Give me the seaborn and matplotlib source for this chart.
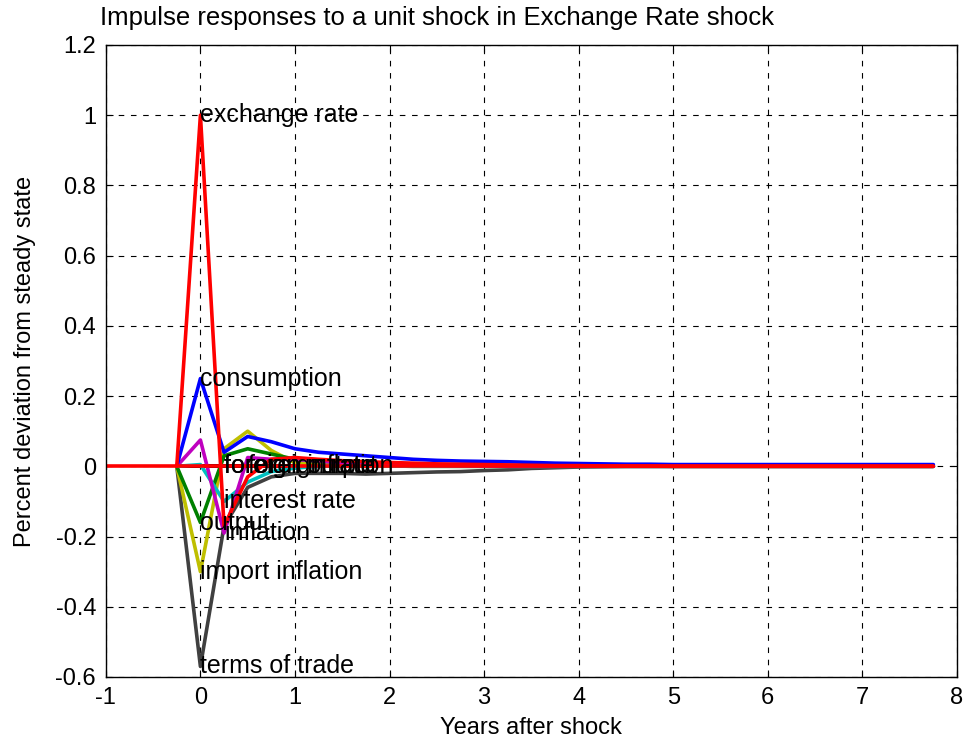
import matplotlib
matplotlib.use("Agg")
import matplotlib.pyplot as plt
import numpy as np
import pandas as pd
import seaborn as sns

# quarterly horizon, in years after the shock
years = [-0.25, 0.0, 0.25, 0.5, 0.75, 1.0, 1.25, 1.5, 1.75, 2.0, 2.25, 2.5, 2.75,
         3.0, 3.25, 3.5, 3.75, 4.0, 4.25, 4.5, 4.75, 5.0, 5.25, 5.5, 5.75,
         6.0, 6.25, 6.5, 6.75, 7.0, 7.25, 7.5, 7.75]

exchange_rate = [0, 1.0, -0.17, -0.03, 0.02, 0.025, 0.02, 0.016, 0.013, 0.011, 0.009,
                 0.007, 0.006, 0.005, 0.004, 0.003, 0.002, 0.002, 0.001, 0.001, 0.001,
                 0, 0, 0, 0, 0, 0, 0, 0, 0, 0, 0, 0]
consumption = [0, 0.25, 0.04, 0.085, 0.07, 0.05, 0.04, 0.035, 0.03, 0.025, 0.02,
               0.017, 0.015, 0.014, 0.013, 0.011, 0.009, 0.008, 0.007, 0.006, 0.006,
               0.005, 0.005, 0.005, 0.005, 0.005, 0.005, 0.005, 0.005, 0.005, 0.005,
               0.005, 0.005]
inflation = [0, 0.075, -0.19, 0.025, 0.02, 0.02, 0.015, 0.01, 0.008, 0.006, 0.004,
             0.003, 0.002, 0.001, 0, 0, 0, 0, 0, 0, 0, 0, 0, 0, 0, 0, 0, 0, 0, 0,
             0, 0, 0]
interest_rate = [0, 0.005, -0.1, -0.045, -0.015, -0.005, 0, 0.002, 0.002, 0.001, 0,
                 0, 0, 0, 0, 0, 0, 0, 0, 0, 0, 0, 0, 0, 0, 0, 0, 0, 0, 0, 0, 0, 0]
output = [0, -0.16, 0.03, 0.05, 0.035, 0.02, 0.015, 0.012, 0.01, 0.008, 0.006,
          0.005, 0.004, 0.003, 0.002, 0.001, 0, 0, 0, 0, 0, 0, 0, 0, 0, 0, 0, 0,
          0, 0, 0, 0, 0]
import_inflation = [0, -0.3, 0.05, 0.1, 0.045, 0.01, 0.005, 0.003, 0.002, 0.001, 0,
                    0, 0, 0, 0, 0, 0, 0, 0, 0, 0, 0, 0, 0, 0, 0, 0, 0, 0, 0, 0, 0, 0]
terms_of_trade = [0, -0.57, -0.17, -0.06, -0.03, -0.02, -0.02, -0.02, -0.022, -0.02,
                  -0.018, -0.016, -0.015, -0.012, -0.01, -0.006, -0.004, -0.002,
                  -0.001, 0, 0, 0, 0, 0, 0, 0, 0, 0, 0, 0, 0, 0, 0]
foreign_output = [0] * 33
foreign_inflation = [0] * 33
foreign_rate = [0] * 33

zero_x = [-1, 7.75]
zero_y = [0, 0]

# (name, values, colour, where the label sits in years)
series = [
    ("foreign output", foreign_output, "#000000", 0.25),
    ("foreign inflation", foreign_inflation, "#000000", 0.25),
    ("foreign rate", foreign_rate, "#000000", 0.5),
    ("terms of trade", terms_of_trade, "#404040", 0.0),
    ("import inflation", import_inflation, "#BFBF00", 0.0),
    ("output", output, "#008000", 0.0),
    ("interest rate", interest_rate, "#00BFBF", 0.25),
    ("inflation", inflation, "#BF00BF", 0.25),
    ("consumption", consumption, "#0000FF", 0.0),
    ("exchange rate", exchange_rate, "#FF0000", 0.0),
]

sns.set_style("ticks")
plt.rcParams["font.family"] = ["Liberation Sans", "DejaVu Sans"]
plt.rcParams["axes.unicode_minus"] = False
plt.rcParams["text.color"] = "black"
plt.rcParams["axes.labelcolor"] = "black"

fig = plt.figure(figsize=(9.71, 7.46), dpi=100)
ax = fig.add_axes([0.109, 0.0925, 0.8766, 0.8472])

for name, vals, col, lx in series:
    df = pd.DataFrame({"years": years, "value": vals})
    sns.lineplot(data=df, x="years", y="value", color=col, linewidth=2.6, ax=ax)

sns.lineplot(x=zero_x, y=zero_y, color="#FF0000", linewidth=2.6, ax=ax)

for name, vals, col, lx in series:
    ly = vals[years.index(lx)]
    ax.text(lx, ly, name, fontsize=18, ha="left", va="center", color="black")

ax.set_xlim(-1, 8)
ax.set_ylim(-0.6, 1.2)
ax.set_xticks(range(-1, 9))
ax.set_yticks([-0.6, -0.4, -0.2, 0, 0.2, 0.4, 0.6, 0.8, 1.0, 1.2])
ax.set_yticklabels(["-0.6", "-0.4", "-0.2", "0", "0.2", "0.4", "0.6", "0.8", "1", "1.2"])
ax.tick_params(direction="in", top=True, right=True, labelsize=17, length=5,
               colors="black", pad=7)
ax.grid(True, linestyle=(0, (5, 6)), color="black", linewidth=0.8)
for s in ax.spines.values():
    s.set_visible(True)
    s.set_color("black")
    s.set_linewidth(1.0)

ax.set_xlabel("Years after shock", fontsize=17, labelpad=6, color="black")
ax.set_ylabel("Percent deviation from steady state", fontsize=17, labelpad=14, color="black")
fig.text(100 / 971, 1 - 18 / 746, "Impulse responses to a unit shock in Exchange Rate shock",
         fontsize=18.5, ha="left", va="center", color="black")

fig.savefig("out.png", dpi=100, facecolor="white")
